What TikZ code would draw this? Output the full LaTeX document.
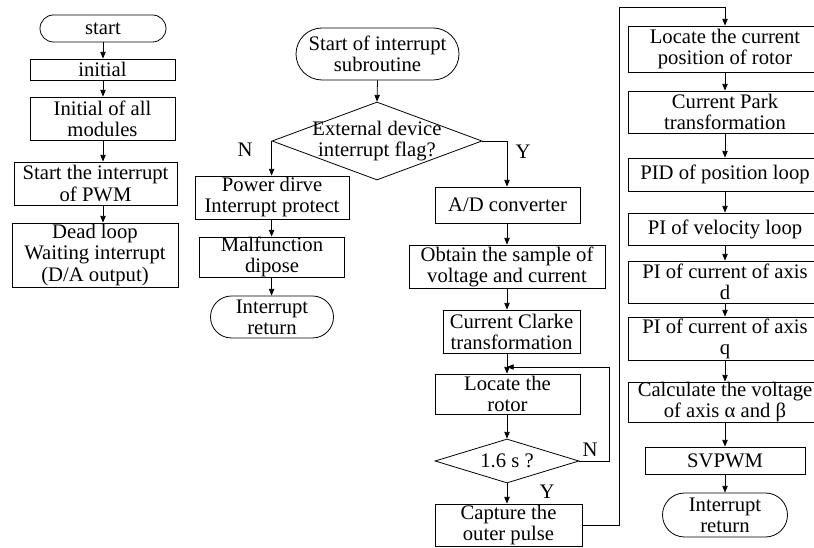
\documentclass[tikz,border=0pt]{standalone}
\usepackage{fontspec}
\setmainfont{Liberation Serif}
\usetikzlibrary{shapes.geometric,shapes.misc,arrows.meta}
\begin{document}
\begin{tikzpicture}[x=0.75pt,y=-0.75pt,
  base/.style={draw, line width=0.6pt, inner sep=0pt, align=center, font=\fontsize{15.5}{15.8}\selectfont},
  box/.style={base, rectangle},
  term/.style={base, rounded rectangle},
  dia/.style={draw, line width=0.6pt, diamond, inner sep=0pt},
  wh/.style 2 args={minimum width=#1*0.75pt, minimum height=#2*0.75pt},
  arr/.style={line width=0.6pt, -{Triangle[length=5pt,width=4pt]}},
  lbl/.style={inner sep=0pt, font=\fontsize{15.5}{15.8}\selectfont},
  txt/.style={inner sep=0pt, align=center, font=\fontsize{15.5}{15.8}\selectfont}]
\useasboundingbox (0,0) rectangle (814,548);
\clip (0,0) rectangle (814,548);

% ---------- left column ----------
\coordinate (colL) at (103,0);
\node[term, wh={126}{27}] (start) at (103,28.5) {start};
\node[box, wh={145}{21}] (init) at (102.5,69.5) {initial};
\node[box, wh={145}{43}] (initall) at (102.5,118.5) {Initial of all\\modules};
\node[box, wh={163}{43}] (pwm) at (95.5,183.5) {Start the interrupt\\of PWM};
\node[box, wh={166}{64}] (dead) at (95,255) {Dead loop\\Waiting interrupt\\(D/A output)};

\draw[arr] (colL |- start.south) -- (colL |- init.north);
\draw[arr] (colL |- init.south) -- (colL |- initall.north);
\draw[arr] (colL |- initall.south) -- (colL |- pwm.north);
\draw[arr] (colL |- pwm.south) -- (colL |- dead.north);

% ---------- middle column ----------
\node[term, wh={163}{52}] (sub) at (377.5,54) {Start of interrupt\\subroutine};
\node[dia, wh={210}{78}] (d1) at (377,141) {};
\node[txt] (d1t) at (377,141) {External device\\interrupt flag?};
\node[lbl] (n1) at (245,150) {N};
\node[lbl] (y1) at (523,152) {Y};

\node[box, wh={154}{43}] (power) at (272,197.5) {Power dirve\\Interrupt protect};
\node[box, wh={145}{40}] (malf) at (272,257) {Malfunction\\dipose};
\node[term, wh={123}{42}] (ret1) at (272,317) {Interrupt\\return};

\draw[arr] (sub.south) -- (d1.north);
\draw[arr] (d1.west) -- (d1.west |- power.north);
\draw[arr] (d1.west |- power.south) -- (d1.west |- malf.north);
\draw[arr] (d1.west |- malf.south) -- (d1.west |- ret1.north);

\coordinate (colM) at (507,0);
\node[box, wh={145}{36}] (ad) at (507.5,205) {A/D converter};
\node[box, wh={196}{43}] (obt) at (507,266.5) {Obtain the sample of\\voltage and current};
\node[box, wh={137}{43}] (clarke) at (511.5,331.5) {Current Clarke\\transformation};
\node[box, wh={145}{40}] (rotor) at (507.5,394) {Locate the\\rotor};
\node[dia, wh={144}{44}] (d2) at (507,461) {};
\node[txt] (d2t) at (507,461) {1.6 s ?};
\node[lbl] (n2) at (590,450) {N};
\node[lbl] (y2) at (547,492) {Y};
\node[box, wh={147}{42}] (cap) at (508.5,525) {Capture the\\outer pulse};

\draw[arr] (d1.east) -| (colM |- ad.north);
\draw[arr] (colM |- ad.south) -- (colM |- obt.north);
\draw[arr] (colM |- obt.south) -- (colM |- clarke.north);
\draw[arr] (colM |- clarke.south) -- (colM |- rotor.north);
\draw[arr] (colM |- rotor.south) -- (d2.north);
\draw[arr] (d2.south) -- (colM |- cap.north);

\coordinate (fb) at (609,367);
\coordinate (fbend) at (507,367);
\draw[arr] (d2.east) -| (fb) -- (fbend);

% ---------- right column ----------
\coordinate (loop) at (619,7);
\node[box, wh={194}{46}] (loc) at (725,49) {Locate the current\\position of rotor};
\node[box, wh={194}{42}] (park) at (725,112) {Current Park\\transformation};
\node[box, wh={194}{33}] (pid) at (725,174.5) {PID of position loop};
\node[box, wh={194}{32}] (vel) at (725,229) {PI of velocity loop};
\node[box, wh={194}{42}] (pid2) at (725,282) {PI of current of axis\\d};
\node[box, wh={194}{43}] (piq) at (725,338.5) {PI of current of axis\\q};
\node[box, wh={194}{40}] (calc) at (725,402) {Calculate the voltage\\of axis α and β};
\node[box, wh={160}{27}] (svp) at (725,460.5) {SVPWM};
\node[term, wh={125}{44}] (ret2) at (725,515) {Interrupt\\return};

\draw[arr] (cap.east) -| (loop) -| (loc.north);
\draw[arr] (loc.south) -- (park.north);
\draw[arr] (park.south) -- (pid.north);
\draw[arr] (pid.south) -- (vel.north);
\draw[arr] (vel.south) -- (pid2.north);
\draw[arr] (pid2.south) -- (piq.north);
\draw[arr] (piq.south) -- (calc.north);
\draw[arr] (calc.south) -- (svp.north);
\draw[arr] (svp.south) -- (ret2.north);
\end{tikzpicture}
\end{document}
